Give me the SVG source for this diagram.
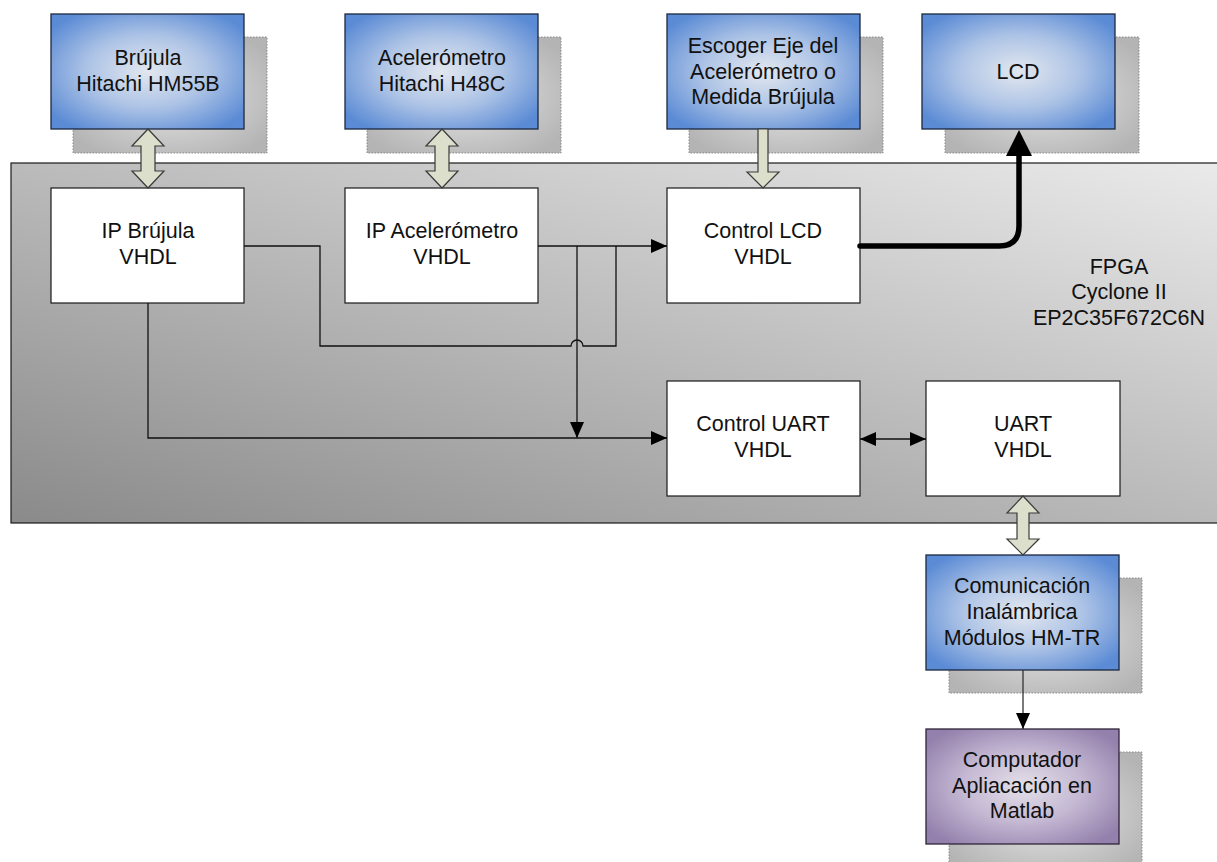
<svg xmlns="http://www.w3.org/2000/svg" width="1217" height="862" viewBox="0 0 1217 862">
<defs>
<radialGradient id="gBlue" cx="50%" cy="50%" r="62%">
<stop offset="0" stop-color="#e2e7ef"/>
<stop offset="0.5" stop-color="#aec4e6"/>
<stop offset="1" stop-color="#5b8bd5"/>
</radialGradient>
<radialGradient id="gPurple" cx="50%" cy="50%" r="62%">
<stop offset="0" stop-color="#e4e0e8"/>
<stop offset="0.5" stop-color="#c4b8d3"/>
<stop offset="1" stop-color="#9480ac"/>
</radialGradient>
<radialGradient id="gShadow" cx="50%" cy="50%" r="62%">
<stop offset="0" stop-color="#e6e6e6"/>
<stop offset="1" stop-color="#b4b4b4"/>
</radialGradient>
<linearGradient id="gFpga" x1="0" y1="1" x2="1" y2="0">
<stop offset="0" stop-color="#8a8a8a"/>
<stop offset="1" stop-color="#ebebeb"/>
</linearGradient>
<marker id="ah" markerUnits="userSpaceOnUse" markerWidth="16" markerHeight="14" refX="16" refY="7" orient="auto-start-reverse">
<path d="M0,0 L16,7 L0,14 Z" fill="#000"/>
</marker>
</defs>
<style>
.shadow{fill:url(#gShadow);stroke:#8a8a8a;stroke-width:1;stroke-dasharray:1.5 1.5}
.blue{fill:url(#gBlue);stroke:#1c2840;stroke-width:1.3}
.purple{fill:url(#gPurple);stroke:#2e2438;stroke-width:1.3}
.white{fill:#fff;stroke:#1a1a1a;stroke-width:1.2}
.fpga{fill:url(#gFpga);stroke:#1a1a1a;stroke-width:1.2}
.blk{fill:#dcdfcb;stroke:#3a3a3a;stroke-width:1.2}
.ln{fill:none;stroke:#111;stroke-width:1.3}
text{font-family:"Liberation Sans",Arial,sans-serif;font-size:21.5px;fill:#111;text-anchor:middle}
</style>

<g id="fpga">
<rect class="fpga" x="11" y="163" width="1230" height="360"/>
<text x="1119" y="274">FPGA</text>
<text x="1119" y="299">Cyclone II</text>
<text x="1119" y="325">EP2C35F672C6N</text>
</g>

<g id="brujula">
<rect class="shadow" x="73" y="37" width="194" height="116"/>
<rect class="blue" x="51" y="14" width="193" height="115"/>
<text x="148" y="65">Brújula</text>
<text x="148" y="91">Hitachi HM55B</text>
</g>

<g id="acelerometro">
<rect class="shadow" x="367" y="37" width="194" height="116"/>
<rect class="blue" x="345" y="14" width="193" height="115"/>
<text x="442" y="65">Acelerómetro</text>
<text x="442" y="91">Hitachi H48C</text>
</g>

<g id="escoger">
<rect class="shadow" x="689" y="37" width="194" height="116"/>
<rect class="blue" x="667" y="14" width="193" height="115"/>
<text x="763" y="53">Escoger Eje del</text>
<text x="763" y="79">Acelerómetro o</text>
<text x="763" y="104">Medida Brújula</text>
</g>

<g id="lcd">
<rect class="shadow" x="945" y="37" width="194" height="116"/>
<rect class="blue" x="922" y="14" width="193" height="115"/>
<text x="1018" y="79">LCD</text>
</g>

<g id="ip-brujula">
<rect class="white" x="51" y="188" width="193" height="115"/>
<text x="148" y="238">IP Brújula</text>
<text x="148" y="264">VHDL</text>
</g>

<g id="ip-acelerometro">
<rect class="white" x="345" y="188" width="193" height="115"/>
<text x="442" y="238">IP Acelerómetro</text>
<text x="442" y="264">VHDL</text>
</g>

<g id="control-lcd">
<rect class="white" x="667" y="188" width="193" height="115"/>
<text x="763" y="238">Control LCD</text>
<text x="763" y="264">VHDL</text>
</g>

<g id="control-uart">
<rect class="white" x="667" y="381" width="193" height="115"/>
<text x="763" y="431">Control UART</text>
<text x="763" y="457">VHDL</text>
</g>

<g id="uart">
<rect class="white" x="926" y="381" width="194" height="115"/>
<text x="1023" y="431">UART</text>
<text x="1023" y="457">VHDL</text>
</g>

<g id="comunicacion">
<rect class="shadow" x="949" y="578" width="193" height="115"/>
<rect class="blue" x="926" y="555" width="193" height="115"/>
<text x="1022" y="593">Comunicación</text>
<text x="1022" y="619">Inalámbrica</text>
<text x="1022" y="645">Módulos HM-TR</text>
</g>

<g id="computador">
<rect class="shadow" x="949" y="752" width="193" height="120"/>
<rect class="purple" x="926" y="729" width="193" height="115"/>
<text x="1022" y="767">Computador</text>
<text x="1022" y="793">Apliacación en</text>
<text x="1022" y="818">Matlab</text>
</g>

<g id="connectors">
<polygon class="blk" points="148,129 164,146 155,146 155,171 164,171 148,188 132,171 141,171 141,146 132,146"/>
<polygon class="blk" points="442,129 458,146 449,146 449,171 458,171 442,188 426,171 435,171 435,146 426,146"/>
<polygon class="blk" points="758,129 768,129 768,172 779,172 763,188 747,172 758,172"/>
<polygon class="blk" points="1023,496 1039,513 1029,513 1029,539 1039,539 1023,555 1007,539 1017,539 1017,513 1007,513"/>
<path class="ln" d="M538,246 H667" marker-end="url(#ah)"/>
<path class="ln" d="M244,246 H320 V346 H571 A6,6 0 0 1 583,346 H616 V246"/>
<path class="ln" d="M577,246 V438" marker-end="url(#ah)"/>
<path class="ln" d="M148,303 V438 H667" marker-end="url(#ah)"/>
<path class="ln" d="M860,439 H926" marker-start="url(#ah)" marker-end="url(#ah)"/>
<path class="ln" d="M1023,670 V729" style="stroke:#333" marker-end="url(#ah)"/>
<path d="M860,246 H999 Q1019,246 1019,226 V154" fill="none" stroke="#000" stroke-width="5.5" stroke-linecap="round"/>
<polygon points="1019,130 1032,156 1006,156" fill="#000"/>
</g>
</svg>
